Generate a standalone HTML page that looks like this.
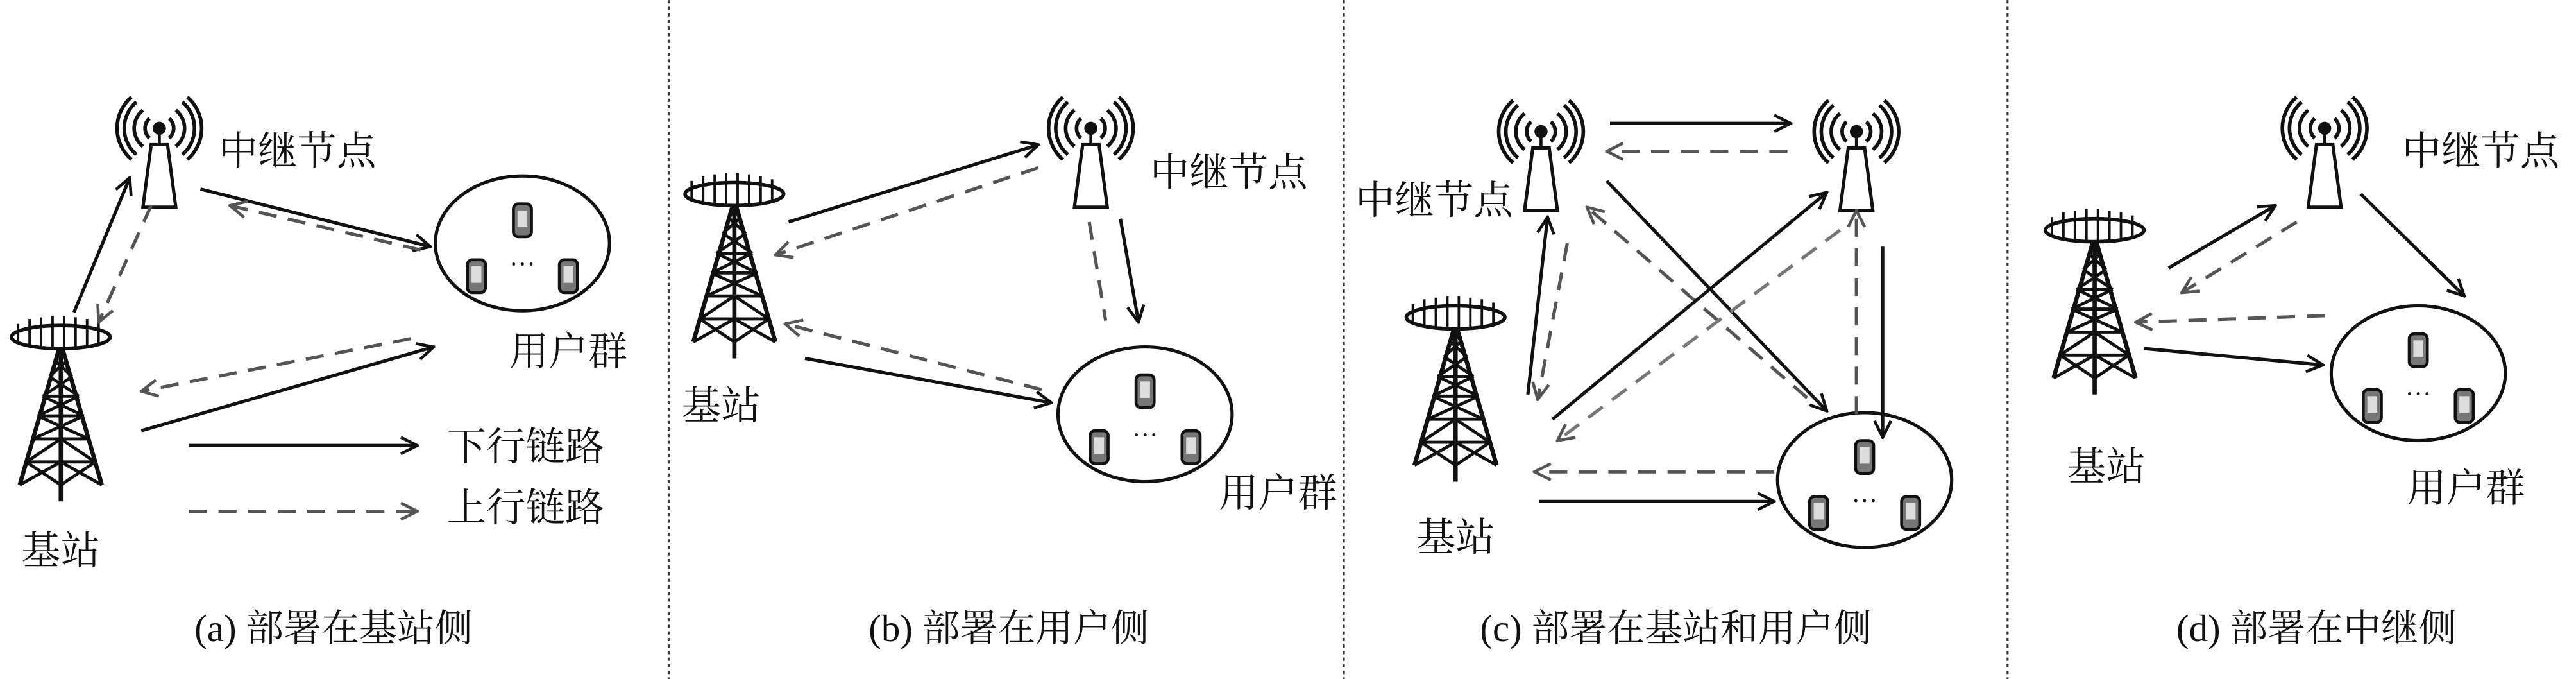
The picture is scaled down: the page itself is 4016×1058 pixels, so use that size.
<!DOCTYPE html>
<html><head><meta charset="utf-8"><style>
html,body{margin:0;padding:0;background:#fff}
svg{display:block}
text{font-family:"Liberation Serif","Noto Serif CJK SC","Noto Sans CJK SC",serif;fill:#111}
</style></head><body>
<svg width="4016" height="1058" viewBox="0 0 1568 413" xmlns="http://www.w3.org/2000/svg">
<defs>
<marker id="ms" viewBox="0 0 12 12" refX="11" refY="6" markerWidth="12" markerHeight="12" markerUnits="userSpaceOnUse" orient="auto"><path d="M1,1 L11,6 L1,11" fill="none" stroke="#111" stroke-width="1.8"/></marker>
<marker id="md" viewBox="0 0 12 12" refX="11" refY="6" markerWidth="12" markerHeight="12" markerUnits="userSpaceOnUse" orient="auto"><path d="M1,1 L11,6 L1,11" fill="none" stroke="#555" stroke-width="1.8"/></marker>
<g id="bs" fill="none" stroke="#111">
 <g stroke-width="1.5"><line x1="-26" y1="-8" x2="-26" y2="4"/><line x1="-19" y1="-11" x2="-19" y2="6"/><line x1="-12" y1="-12" x2="-12" y2="7"/><line x1="-5" y1="-13" x2="-5" y2="7"/><line x1="2" y1="-13" x2="2" y2="7"/><line x1="9" y1="-12" x2="9" y2="7"/><line x1="16" y1="-11" x2="16" y2="6"/><line x1="23" y1="-9" x2="23" y2="5"/></g>
 <ellipse cx="0" cy="0" rx="30" ry="7" stroke-width="2.2" fill="none"/>
 <path d="M-1,7 L-25,90 M1,7 L25,90 M0,7 L0,100" stroke-width="2.6"/>
 <path d="M-25,90 L0,76 L25,90 M-21,76 L0,62 L21,76 M-17,62 L14,48 M17,62 L-14,48 M-14,48 L11,36 M14,48 L-11,36 M-11,36 L7,24 M11,36 L-7,24 M-7,24 L4,14 M7,24 L-4,14 M-20,76 L20,76 M-16,62 L16,62 M-12,48 L12,48 M-9,36 L9,36 M-21,76 L0,90 L21,76" stroke-width="1.9"/>
</g>
<g id="rl" fill="none" stroke="#111">
 <circle cx="0" cy="0" r="3.5" fill="#111"/>
 <path d="M-6,-6 A8,8 0 0 0 -6,6 M6,-6 A8,8 0 0 1 6,6 M-10,-11 A14,14 0 0 0 -10,11 M10,-11 A14,14 0 0 1 10,11 M-14,-16 A21,21 0 0 0 -14,16 M14,-16 A21,21 0 0 1 14,16 M-17,-19 A25,25 0 0 0 -17,19 M17,-19 A25,25 0 0 1 17,19" stroke-width="2.2"/>
 <line x1="0" y1="3" x2="0" y2="10" stroke-width="1.8"/>
 <path d="M-5,10 L5,10 L10,48 L-10,48 Z" stroke-width="2" fill="#fff"/>
</g>
<g id="ph"><rect x="-5.5" y="-10" width="11" height="20" rx="3" fill="#777" stroke="#111" stroke-width="1.8"/><rect x="-3" y="-6" width="6" height="10" fill="#ddd"/></g>
<g id="ug">
 <ellipse cx="0" cy="0" rx="53" ry="41" fill="#fff" stroke="#111" stroke-width="2"/>
 <use href="#ph" x="0" y="-14"/><use href="#ph" x="-28" y="20"/><use href="#ph" x="28" y="20"/>
 <text x="0" y="18" font-size="16" text-anchor="middle">···</text>
</g>
</defs>

<g stroke="#333" stroke-width="1.2" stroke-dasharray="2,2">
<line x1="407" y1="0" x2="407" y2="413"/><line x1="818" y1="0" x2="818" y2="413"/><line x1="1222" y1="0" x2="1222" y2="413"/>
</g>

<g font-size="24">
<!-- (a) -->
<use href="#rl" x="97" y="78"/>
<text x="133" y="100">中继节点</text>
<use href="#ug" x="318" y="148"/>
<text x="310" y="222">用户群</text>
<use href="#bs" x="37" y="205"/>
<text x="13" y="343">基站</text>
<g stroke-width="2" fill="none">
<line x1="45" y1="190" x2="79" y2="108" stroke="#111" marker-end="url(#ms)"/>
<line x1="92" y1="125" x2="60" y2="196" stroke="#555" stroke-dasharray="11,7" marker-end="url(#md)"/>
<line x1="122" y1="115" x2="262" y2="150" stroke="#111" marker-end="url(#ms)"/>
<line x1="256" y1="152" x2="140" y2="125" stroke="#555" stroke-dasharray="11,7" marker-end="url(#md)"/>
<line x1="250" y1="206" x2="86" y2="238" stroke="#555" stroke-dasharray="11,7" marker-end="url(#md)"/>
<line x1="86" y1="262" x2="264" y2="211" stroke="#111" marker-end="url(#ms)"/>
<line x1="115" y1="271" x2="254" y2="271" stroke="#111" marker-end="url(#ms)"/>
<line x1="115" y1="311" x2="254" y2="311" stroke="#555" stroke-dasharray="11,7" marker-end="url(#md)"/>
</g>
<text x="272" y="280">下行链路</text>
<text x="272" y="317">上行链路</text>
<text x="203" y="390" text-anchor="middle" font-size="23">(a) 部署在基站侧</text>

<!-- (b) -->
<use href="#bs" x="447" y="118"/>
<text x="415" y="255">基站</text>
<use href="#rl" x="664" y="78"/>
<text x="700" y="113">中继节点</text>
<use href="#ug" x="697" y="252"/>
<text x="742" y="308">用户群</text>
<g stroke-width="2" fill="none">
<line x1="480" y1="135" x2="632" y2="88" stroke="#111" marker-end="url(#ms)"/>
<line x1="632" y1="102" x2="472" y2="155" stroke="#555" stroke-dasharray="11,7" marker-end="url(#md)"/>
<line x1="663" y1="135" x2="673" y2="195" stroke="#555" stroke-dasharray="11,7"/>
<line x1="682" y1="133" x2="693" y2="196" stroke="#111" marker-end="url(#ms)"/>
<line x1="634" y1="237" x2="478" y2="197" stroke="#555" stroke-dasharray="11,7" marker-end="url(#md)"/>
<line x1="490" y1="218" x2="640" y2="245" stroke="#111" marker-end="url(#ms)"/>
</g>
<text x="614" y="390" text-anchor="middle" font-size="23">(b) 部署在用户侧</text>

<!-- (c) -->
<use href="#rl" x="938" y="80"/>
<text x="825" y="130">中继节点</text>
<use href="#rl" x="1130" y="80"/>
<use href="#bs" x="886" y="193"/>
<text x="862" y="335">基站</text>
<use href="#ug" x="1135" y="292"/>
<g stroke-width="2" fill="none">
<line x1="980" y1="75" x2="1090" y2="75" stroke="#111" marker-end="url(#ms)"/>
<line x1="1088" y1="92" x2="978" y2="92" stroke="#555" stroke-dasharray="11,7" marker-end="url(#md)"/>
<line x1="930" y1="240" x2="942" y2="132" stroke="#111" marker-end="url(#ms)"/>
<line x1="954" y1="148" x2="936" y2="243" stroke="#555" stroke-dasharray="11,7" marker-end="url(#md)"/>
<line x1="978" y1="110" x2="1112" y2="250" stroke="#111" marker-end="url(#ms)"/>
<line x1="1100" y1="242" x2="966" y2="126" stroke="#555" stroke-dasharray="11,7" marker-end="url(#md)"/>
<line x1="945" y1="255" x2="1112" y2="117" stroke="#111" marker-end="url(#ms)"/>
<line x1="1120" y1="140" x2="948" y2="268" stroke="#777" stroke-dasharray="11,7" marker-end="url(#md)"/>
<line x1="1130" y1="252" x2="1130" y2="128" stroke="#555" stroke-dasharray="11,7" marker-end="url(#md)"/>
<line x1="1146" y1="150" x2="1146" y2="266" stroke="#111" marker-end="url(#ms)"/>
<line x1="1080" y1="287" x2="934" y2="287" stroke="#555" stroke-dasharray="11,7" marker-end="url(#md)"/>
<line x1="937" y1="305" x2="1080" y2="305" stroke="#111" marker-end="url(#ms)"/>
</g>
<text x="1020" y="390" text-anchor="middle" font-size="23">(c) 部署在基站和用户侧</text>

<!-- (d) -->
<use href="#rl" x="1415" y="78"/>
<text x="1462" y="100">中继节点</text>
<use href="#bs" x="1275" y="140"/>
<text x="1258" y="292">基站</text>
<use href="#ug" x="1472" y="227"/>
<text x="1465" y="305">用户群</text>
<g stroke-width="2" fill="none">
<line x1="1320" y1="163" x2="1385" y2="125" stroke="#111" marker-end="url(#ms)"/>
<line x1="1398" y1="135" x2="1328" y2="178" stroke="#555" stroke-dasharray="11,7" marker-end="url(#md)"/>
<line x1="1437" y1="118" x2="1500" y2="180" stroke="#111" marker-end="url(#ms)"/>
<line x1="1415" y1="192" x2="1300" y2="196" stroke="#555" stroke-dasharray="11,7" marker-end="url(#md)"/>
<line x1="1305" y1="212" x2="1414" y2="222" stroke="#111" marker-end="url(#ms)"/>
</g>
<text x="1410" y="390" text-anchor="middle" font-size="23">(d) 部署在中继侧</text>
</g>
</svg>
</body></html>
